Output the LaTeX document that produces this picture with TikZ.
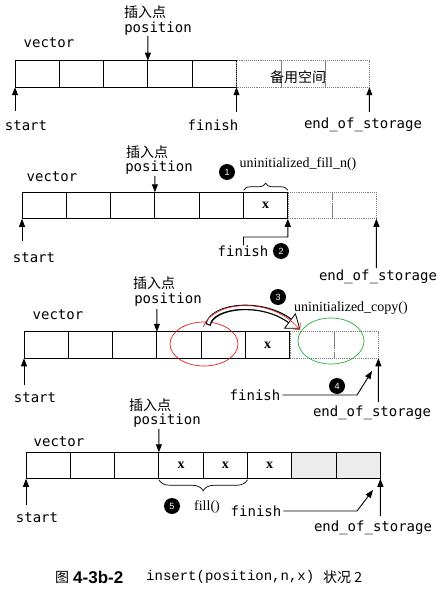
\documentclass[tikz,border=0pt]{standalone}
\usepackage{fontspec}
\setmainfont{Liberation Serif}
\newfontfamily\labfont{DejaVu Sans Mono}
\newfontfamily\cnfont{Noto Sans CJK SC}
\newfontfamily\numfont{Liberation Sans}
\newfontfamily\capmono{Liberation Mono}
\usetikzlibrary{positioning, arrows.meta, decorations.pathreplacing}
\definecolor{markred}{RGB}{225,30,30}
\definecolor{markgreen}{RGB}{40,175,60}

\begin{document}
\begin{tikzpicture}[x=1pt, y=-1pt,
  cell/.style={draw, line width=0.9pt, minimum width=44.3pt, minimum height=26.5pt, inner sep=0pt, outer sep=0pt, font=\bfseries\fontsize{14}{16}\selectfont},
  spare/.style={cell, draw=gray, densely dotted, line width=0.6pt},
  used/.style={cell, fill=gray!15},
  lbl/.style={inner sep=0pt, font=\labfont\fontsize{14}{16}\selectfont},
  cn/.style={inner sep=0pt, font=\cnfont\fontsize{14}{16}\selectfont},
  fn/.style={inner sep=0pt, font=\fontsize{14}{16}\selectfont},
  num/.style={circle, fill=black, text=white, minimum size=16pt, inner sep=0pt, font=\numfont\fontsize{9}{9}\selectfont},
  ptr/.style={-{Triangle[length=8pt, width=6pt]}, line width=0.9pt}]
\useasboundingbox (0,0) rectangle (439,591);

% state 1
\draw (37.15,74) node[cell] (a1) {};
\node[cell, right=0pt of a1] (a2) {};
\node[cell, right=0pt of a2] (a3) {};
\node[cell, right=0pt of a3] (a4) {};
\node[cell, right=0pt of a4] (a5) {};
\node[spare, right=0pt of a5] (a6) {};
\node[spare, right=0pt of a6] (a7) {};
\node[spare, right=0pt of a7] (a8) {};
\node[cn] (sp1) at (298,77) {备用空间};
\node[cn] (ins1) at (145,12) {插入点};
\node[lbl] (pos1) at (158,29) {position};
\node[lbl] (vec1) at (49,43) {vector};
\node[lbl] (st1) at (26,126) {start};
\node[lbl] (fi1) at (213,125) {finish};
\node[lbl] (eos1) at (363,125) {end\_of\_storage};
\coordinate (tp1) at (147.9,36);
\coordinate (ta1) at (15,111);
\coordinate (tf1) at (236.5,112);
\coordinate (te1) at (369.4,112);
\draw[ptr] (tp1) -- (a4.north west);
\draw[ptr] (ta1) -- (a1.south west);
\draw[ptr] (tf1) -- (a5.south east);
\draw[ptr] (te1) -- (a8.south east);

% state 2
\draw (44.15,205.5) node[cell] (b1) {};
\node[cell, right=0pt of b1] (b2) {};
\node[cell, right=0pt of b2] (b3) {};
\node[cell, right=0pt of b3] (b4) {};
\node[cell, right=0pt of b4] (b5) {};
\node[cell, right=0pt of b5] (b6) {x};
\node[spare, right=0pt of b6] (b7) {};
\node[spare, right=0pt of b7] (b8) {};
\node[cn] (ins2) at (147,152) {插入点};
\node[lbl] (pos2) at (159,168) {position};
\node[lbl] (vec2) at (52,177) {vector};
\node[num] (n1) at (227,172) {1};
\node[fn] (ufn) at (298,164) {uninitialized\_fill\_n()};
\draw[decorate, decoration={brace, amplitude=7pt}, line width=0.7pt] ([yshift=2pt]b6.north west) -- ([yshift=2pt]b6.north east);
\node[lbl] (st2) at (34,258) {start};
\node[lbl] (fi2) at (243,251) {finish};
\node[num] (n2) at (281,251) {2};
\node[lbl] (eos2) at (378,277) {end\_of\_storage};
\coordinate (tp2) at (154.9,176);
\coordinate (ta2) at (22,241);
\coordinate (kf2) at (287.8,237);
\coordinate (te2) at (376.4,268);
\draw[ptr] (tp2) -- (b4.north west);
\draw[ptr] (ta2) -- (b1.south west);
\draw[ptr] (fi2.north -| b6.south west) |- (kf2) -- (b6.south east);
\draw[ptr] (te2) -- (b8.south east);

% state 3
\draw (46.15,345) node[cell] (c1) {};
\node[cell, right=0pt of c1] (c2) {};
\node[cell, right=0pt of c2] (c3) {};
\node[cell, right=0pt of c3] (c4) {};
\node[cell, right=0pt of c4] (c5) {};
\node[cell, right=0pt of c5] (c6) {x};
\node[spare, right=0pt of c6] (c7) {};
\node[spare, right=0pt of c7] (c8) {};
\node[cn] (ins3) at (154,283) {插入点};
\node[lbl] (pos3) at (168,300) {position};
\node[lbl] (vec3) at (58,315) {vector};
\draw[markred, line width=0.7pt] (204,344) ellipse (34pt and 22pt);
\draw[markgreen, line width=0.7pt] (331,341) ellipse (33pt and 23pt);
\draw[line width=5.5pt] (208,325) .. controls (212,305) and (262,300) .. (290,321);
\draw[white, line width=3pt, shorten <=1.2pt] (208,325) .. controls (212,305) and (262,300) .. (290,321);
\draw[line width=0.8pt, fill=white] (284.6,328.2) -- (299.6,328.2) -- (295.4,313.8) -- cycle;
\draw[markred, line width=0.6pt, -{Straight Barb[length=5pt]}] (203,327) .. controls (214,300) and (272,296) .. (300,330);
\node[num] (n3) at (278,297) {3};
\node[fn] (ucp) at (351,308) {uninitialized\_copy()};
\node[lbl] (st3) at (35,398) {start};
\node[lbl] (fi3) at (255,395) {finish};
\node[num] (n4) at (337,386) {4};
\node[lbl] (eos3) at (372,413) {end\_of\_storage};
\coordinate (tp3) at (156.9,309);
\coordinate (ta3) at (24,385);
\coordinate (kf3) at (357,395);
\coordinate (tf3) at (372,371);
\coordinate (te3) at (378.4,402);
\draw[ptr] (tp3) -- (c4.north west);
\draw[ptr] (ta3) -- (c1.south west);
\draw[ptr, shorten <=2pt] (fi3.east) -- (kf3) -- (tf3);
\draw[ptr] (te3) -- (c8.south east);

% state 4
\draw (48.15,465.5) node[cell] (d1) {};
\node[cell, right=0pt of d1] (d2) {};
\node[cell, right=0pt of d2] (d3) {};
\node[cell, right=0pt of d3] (d4) {x};
\node[cell, right=0pt of d4] (d5) {x};
\node[cell, right=0pt of d5] (d6) {x};
\node[used, right=0pt of d6] (d7) {};
\node[used, right=0pt of d7] (d8) {};
\node[cn] (ins4) at (150,405) {插入点};
\node[lbl] (pos4) at (167,421) {position};
\node[lbl] (vec4) at (59,442) {vector};
\draw[decorate, decoration={brace, amplitude=11pt}, line width=0.7pt] ([yshift=-1pt]d5.south east) -- ([yshift=-1pt]d4.south west);
\node[num] (n5) at (172,506) {5};
\node[fn] (fil) at (207,507) {fill()};
\node[lbl] (st4) at (37,518) {start};
\node[lbl] (fi4) at (256,511) {finish};
\node[lbl] (eos4) at (373,528) {end\_of\_storage};
\coordinate (tp4) at (158.9,429);
\coordinate (ta4) at (26,505);
\coordinate (kf4) at (357,511);
\coordinate (tf4) at (373,490);
\coordinate (te4) at (380.4,516);
\draw[ptr] (tp4) -- (d4.north west);
\draw[ptr] (ta4) -- (d1.south west);
\draw[ptr, shorten <=2pt] (fi4.east) -- (kf4) -- (tf4);
\draw[ptr] (te4) -- (d8.south east);

% caption
\node[cn, anchor=west] (cap1) at (55,577) {图};
\node[inner sep=0pt, anchor=west, font=\numfont\bfseries\fontsize{17}{17}\selectfont] (cap2) at (73,577) {4-3b-2};
\node[inner sep=0pt, anchor=west, font=\capmono\fontsize{14}{16}\selectfont] (cap3) at (146,577) {insert(position,n,x)};
\node[cn, anchor=west] (cap4) at (323,577) {状况 2};
\end{tikzpicture}
\end{document}
